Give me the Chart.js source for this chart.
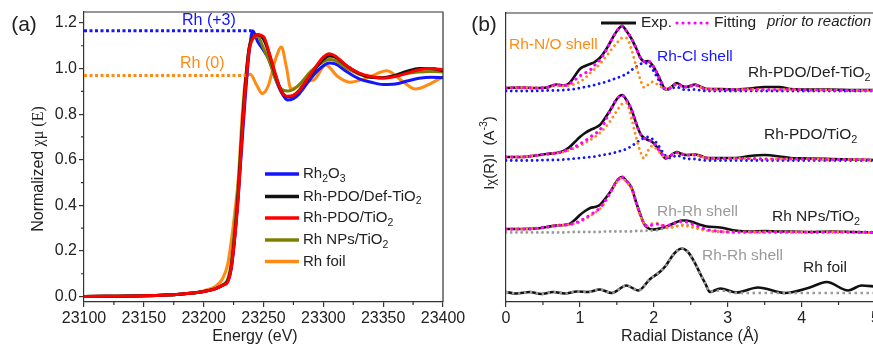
<!DOCTYPE html>
<html>
<head>
<meta charset="utf-8">
<script src="https://cdn.jsdelivr.net/npm/chart.js@4.4.1/dist/chart.umd.min.js"></script>
<style>
  html, body { margin: 0; padding: 0; background: #fff; overflow: hidden; }
  #wrap { position: relative; width: 873px; height: 346px; overflow: hidden; }
  canvas { position: absolute; left: 0; top: 0; }
</style>
</head>
<body>
<div id="wrap">
  <canvas id="xanes" width="873" height="346"></canvas>
  <canvas id="exafs" width="890" height="346"></canvas>
</div>
<script>
// ---- (a) XANES, normalized absorption vs energy ----
const energy = [23100, 23150, 23180, 23200, 23210, 23216, 23220, 23223, 23226, 23229, 23232, 23235, 23238, 23241, 23245,
  23250, 23255, 23260, 23265, 23270, 23275, 23280, 23290, 23300, 23305, 23310, 23320, 23330, 23340, 23350, 23360, 23370, 23380, 23390, 23400];
const muRh2O3 = [0, 0.003, 0.01, 0.022, 0.035, 0.05, 0.065, 0.12, 0.26, 0.45, 0.67, 0.89, 1.07, 1.166, 1.12,
  1.08, 1.035, 0.955, 0.895, 0.862, 0.868, 0.89, 0.96, 1.012, 1.024, 1.02, 0.985, 0.955, 0.94, 0.93, 0.932, 0.945, 0.957, 0.962, 0.96];
const muDef = [0, 0.003, 0.01, 0.022, 0.035, 0.05, 0.068, 0.13, 0.27, 0.46, 0.72, 0.94, 1.09, 1.135, 1.148,
  1.13, 1.06, 0.97, 0.9, 0.876, 0.882, 0.905, 0.975, 1.04, 1.055, 1.05, 1.01, 0.978, 0.962, 0.96, 0.97, 0.988, 1.0, 1.0, 0.99];
const muPdo = [0, 0.003, 0.01, 0.022, 0.035, 0.05, 0.063, 0.125, 0.26, 0.44, 0.7, 0.92, 1.08, 1.13, 1.148,
  1.14, 1.065, 0.975, 0.9, 0.878, 0.882, 0.905, 0.98, 1.05, 1.065, 1.055, 1.01, 0.98, 0.965, 0.958, 0.965, 0.98, 0.995, 1.0, 0.995];
const muNps = [0, 0.003, 0.01, 0.022, 0.035, 0.052, 0.075, 0.15, 0.31, 0.5, 0.74, 0.95, 1.09, 1.135, 1.14,
  1.09, 1.03, 0.955, 0.91, 0.902, 0.908, 0.93, 0.99, 1.03, 1.04, 1.035, 1.0, 0.975, 0.962, 0.96, 0.968, 0.978, 0.985, 0.987, 0.985];
const foilE = [23100, 23150, 23180, 23200, 23210, 23216, 23220, 23223, 23226, 23229, 23232, 23235, 23239, 23244, 23249, 23254,
  23260, 23265, 23269, 23273, 23278, 23284, 23292, 23302, 23312, 23322, 23338, 23353, 23366, 23377, 23390, 23400];
const muFoil = [0, 0.003, 0.01, 0.025, 0.045, 0.08, 0.14, 0.24, 0.37, 0.52, 0.78, 0.95, 0.975, 0.93, 0.89, 0.925,
  1.04, 1.095, 1.01, 0.91, 0.92, 0.945, 0.95, 1.015, 0.965, 0.94, 0.962, 0.99, 0.945, 0.91, 0.935, 0.965];
const rh3E = [23100, 23240], rh3Mu = [1.166, 1.166];
const rh0E = [23100, 23235], rh0Mu = [0.969, 0.969];
const eTicks = [23100, 23150, 23200, 23250, 23300, 23350, 23400];
const muTicks = [0, 0.2, 0.4, 0.6, 0.8, 1.0, 1.2];

// ---- (b) EXAFS |chi(R)|, curves stacked with offsets ----
const rGrid = [0, 0.2, 0.4, 0.55, 0.68, 0.78, 0.86, 0.93, 1.0, 1.07, 1.14, 1.2, 1.27, 1.35, 1.42, 1.5, 1.57, 1.63, 1.7, 1.76,
  1.82, 1.87, 1.92, 1.98, 2.05, 2.1, 2.16, 2.22, 2.31, 2.38, 2.44, 2.56, 2.64, 2.72, 2.9, 3.1, 3.3, 3.5, 3.7, 3.85, 4.1, 4.4, 4.7, 5.0];
const defExp = [0, 0.5, 0, 0.5, 3.5, 2.5, 5, 12, 19, 22, 24, 26, 30, 38, 47, 57, 62, 57, 49, 40,
  30, 26.5, 27, 23, 14, 6, -1.5, 0, 5, 2, 1, 3.5, 1, -1, -1, -1.5, -0.5, 1, 1, -1, -1.5, -1.5, -2, -2];
const defFit = [0, 0.5, 0, 0.5, 3, 2.5, 4, 8, 12, 15, 18, 23, 28, 37, 47, 57, 62, 57, 49, 40,
  30, 26.5, 27, 23, 14, 6, -1, 0, 4.5, 2, 1, 3, 0.5, -1, -1.5, -1.5, -1.5, -1.5, -1.5, -1.5, -2, -2, -2.5, -2.5];
const defNO = [0, 0.5, 0, 0.5, 2.5, 2, 2.5, 4, 6, 10, 15, 19, 24, 31, 38, 45, 50, 50, 38, 22,
  8, 0.5, 3, 6, 3.5, 1, -1, 0.5, 3, 1.5, 1, 2.5, 0.5, -1, -1.5, -1.5, -1.5, -1.5, -1.5, -1.5, -2, -2, -2.5, -2.5];
const defCl = [-3, -3, -3, -2.5, -2.5, -2, -1.5, -1, 0, 1, 2, 3, 4.5, 6, 8, 10, 12, 14, 18, 21,
  24, 25, 24, 19, 10, 3, -1.5, -1, 1, -1, -2, -1.5, -2.5, -3, -3, -3, -3, -3, -3, -3, -3, -3, -3, -3];
const pdoExp = [0, 0, 1.5, 3, 4, 6, 10, 15, 20, 24, 27, 29, 32, 40, 48, 58, 62, 57, 47, 34,
  23, 19, 17, 15, 9, 4, -1.5, 1, 5, 3, 2, 2.5, 1, -1, -1, -1, 1, 2, 0.5, -1, -1.5, -2, -2.5, -3];
const pdoFit = [0, 0, 1.5, 3, 4, 5.5, 8, 10, 13, 16, 20, 23, 27, 37, 48, 58, 62, 57, 47, 34,
  23, 19, 17, 15, 9, 4, -1, 1, 4.5, 3, 2, 2, 0.5, -1, -1.5, -1.5, -1.5, -2, -2, -2, -2, -2.5, -2.5, -3];
const pdoNO = [0, 0, 1.5, 3, 4, 5, 7, 9, 11, 14, 17, 20, 24, 30, 37, 46, 53, 54, 38, 20,
  5, -1.5, 6, 11, 7, 3, 0, 1, 4, 3, 2, 2, 0.5, -1, -1.5, -1.5, -1.5, -2, -2, -2, -2, -2.5, -2.5, -3];
const pdoCl = [-3.5, -3.5, -3.5, -3, -3, -2.5, -2, -1.5, -1, -0.5, 0, 0.5, 1.5, 2.5, 3.5, 5, 6.5, 8, 11, 14,
  17, 19, 20, 18, 13, 7, 1.5, -1, 1.5, 0, -2, -2, -3, -3.5, -3.5, -3.5, -3.5, -3.5, -3.5, -3.5, -3.5, -3.5, -3.5, -3.5];
const npsExp = [0, 0, 0.5, 2, 3.5, 4, 5, 9, 14, 18, 21, 22, 24, 31, 38, 48, 52, 48, 41, 27,
  14, 5, 1, -0.5, 0, 1, 2, 4, 7, 8.5, 8.5, 6, 4, 2.5, 1.5, -1.5, -2.5, -2, -2.5, -2.5, -3, -2.5, -3, -3.5];
const npsFit = [0, 0, 0.5, 2, 3.5, 4, 4.5, 6, 8, 11, 14, 17, 21, 29, 38, 48, 52, 48, 41, 27,
  14, 5, 3, 4, 5, 4, 3, 4, 6.5, 7.5, 7, 4, 1.5, -0.5, -2.5, -3, -3, -3, -3, -3, -3, -3, -3, -3.5];
const npsNO = [0, 0, 0.5, 2, 3.5, 4, 4.5, 5.5, 7, 10, 13, 16, 20, 28, 37, 47, 51, 47, 40, 26,
  13, 5, 3, 5.5, 5.5, 4, 2, 1.5, 2.5, 3.5, 3, 1, -0.5, -1.5, -2.5, -3, -3, -3, -3, -3, -3, -3, -3, -3.5];
const npsRh = [-3.5, -3.5, -3.5, -3.5, -3.5, -3.5, -3, -3, -3, -3, -3, -3, -3, -2.5, -2.5, -2.5, -2.5, -2.5, -2.5, -2,
  -2, -2, -1.5, -1.5, -1, 0, 1, 1.5, 3, 4, 4, 2.5, 0.5, -1.5, -3, -3.5, -3.5, -3.5, -3.5, -3.5, -3.5, -3.5, -3.5, -3.5];
const foilR = [0, 0.14, 0.32, 0.48, 0.64, 0.8, 0.96, 1.11, 1.27, 1.43, 1.63, 1.79, 1.95, 2.08, 2.16, 2.24, 2.31,
  2.38, 2.45, 2.51, 2.57, 2.63, 2.7, 2.76, 2.9, 3.12, 3.41, 3.78, 4.11, 4.34, 4.63, 4.81, 5.0];
const foilExp = [0, -1.5, 0, -2, 0, -1.5, 0.5, 0, 2.5, -1, 6.5, 1.5, 13, 20, 26, 35, 41,
  43.5, 41, 35, 27, 18, 8, 0, 3.5, -0.5, 4.5, -1, 4.5, 10, 1.5, 6.5, 5.5];
const foilFit = [0, -1.5, 0, -2, 0, -1.5, 0.5, 0, 2.5, -1, 6.5, 1.5, 13, 20, 26, 35, 41,
  43.5, 41, 35, 27, 18, 8, 0.5, 1.5, -1, -1, -1, -1, -1, -1, -1, -1];
const offsets = { def: 214, pdo: 145, nps: 73, foil: 10 };
const rTicks = [0, 1, 2, 3, 4, 5];

const sans = "'Liberation Sans', Arial, sans-serif";
const serif = "'Liberation Serif', 'Times New Roman', serif";
const axisColor = '#333';
const c = { blue: '#1414ff', black: '#111', red: '#ff0000', olive: '#808000', orange: '#ff8a14', magenta: '#ff00ff', gray: '#9a9a9a' };

Chart.defaults.font.family = sans;
Chart.defaults.color = '#222';

function pts(xs, ys, off) {
  return xs.map((x, i) => ({ x: x, y: ys[i] + (off || 0) }));
}

// markup: _x = one subscript char, ^{..} = superscript
function segs(str, size, family, italic) {
  const out = [];
  let buf = '';
  const push = (t, k) => { if (t) out.push({ t: t, k: k }); };
  for (let i = 0; i < str.length; i++) {
    const ch = str[i];
    if (ch === '_') { push(buf, 0); buf = ''; push(str[++i], 1); }
    else if (ch === '^') { push(buf, 0); buf = ''; const j = str.indexOf('}', i); push(str.slice(i + 2, j), -1); i = j; }
    else buf += ch;
  }
  push(buf, 0);
  return out.map(s => ({
    t: s.t,
    font: (italic ? 'italic ' : '') + (s.k ? size * 0.7 : size) + 'px ' + (family || sans),
    dy: s.k === 1 ? size * 0.32 : s.k === -1 ? -size * 0.38 : 0
  }));
}

function drawSegs(ctx, list, x, y, color, align) {
  let w = 0;
  list.forEach(s => { ctx.font = s.font; s.w = ctx.measureText(s.t).width; w += s.w; });
  let cx = align === 'center' ? x - w / 2 : x;
  ctx.fillStyle = color;
  ctx.textAlign = 'left';
  ctx.textBaseline = 'middle';
  list.forEach(s => { ctx.font = s.font; ctx.fillText(s.t, cx, y + s.dy); cx += s.w; });
}

function text(ctx, str, x, y, color, size, align, italic) {
  drawSegs(ctx, segs(str, size, sans, italic), x, y, color, align);
}

function minorTicks(ctx, scale, values, horizontal) {
  ctx.save();
  ctx.strokeStyle = axisColor;
  ctx.lineWidth = 1.2;
  ctx.beginPath();
  values.forEach(v => {
    const p = scale.getPixelForValue(v);
    if (horizontal) { ctx.moveTo(p, scale.top); ctx.lineTo(p, scale.top + 3); }
    else { ctx.moveTo(scale.right, p); ctx.lineTo(scale.right - 3, p); }
  });
  ctx.stroke();
  ctx.restore();
}

function curve(label, xs, ys, color, order, width) {
  return { label: label, data: pts(xs, ys), borderColor: color, backgroundColor: color,
    borderWidth: width || 3, pointRadius: 0, order: order, cubicInterpolationMode: 'monotone' };
}

function refLine(xs, ys, color) {
  return { data: pts(xs, ys), borderColor: color, borderWidth: 3, borderDash: [3, 2.5], pointRadius: 0, order: 0 };
}

const xanesLegend = [
  ['Rh_2O_3', c.blue], ['Rh-PDO/Def-TiO_2', c.black], ['Rh-PDO/TiO_2', c.red], ['Rh NPs/TiO_2', c.olive], ['Rh foil', c.orange]
];

const xanesDecor = {
  id: 'xanesDecor',
  afterDraw(chart) {
    const ctx = chart.ctx, a = chart.chartArea;
    ctx.save();
    ctx.strokeStyle = axisColor;
    ctx.lineWidth = 1.2;
    ctx.beginPath();
    ctx.moveTo(a.left, a.top); ctx.lineTo(a.right, a.top); ctx.lineTo(a.right, a.bottom);
    ctx.stroke();
    minorTicks(ctx, chart.scales.x, [23125, 23175, 23225, 23275, 23325, 23375], true);
    minorTicks(ctx, chart.scales.y, [0.1, 0.3, 0.5, 0.7, 0.9, 1.1], false);

    text(ctx, '(a)', 24, 25, '#222', 21, 'center');
    text(ctx, 'Rh (+3)', 182, 21, c.blue, 16);
    text(ctx, 'Rh (0)', 180, 64, c.orange, 16);

    const rows = [174, 196.5, 218, 240, 261.5];
    xanesLegend.forEach((item, i) => {
      ctx.strokeStyle = item[1];
      ctx.lineWidth = 3.5;
      ctx.beginPath(); ctx.moveTo(265, rows[i]); ctx.lineTo(299, rows[i]); ctx.stroke();
      text(ctx, item[0], 303, rows[i], '#222', 15);
    });

    text(ctx, 'Energy (eV)', 255, 337, '#222', 16, 'center');
    ctx.translate(39, 169);
    ctx.rotate(-Math.PI / 2);
    drawSegs(ctx, [{ t: 'Normalized ', font: '16px ' + sans, dy: 0 }, { t: 'χμ (E)', font: '16px ' + serif, dy: 0 }], 0, 0, '#222', 'center');
    ctx.restore();
  }
};

new Chart(document.getElementById('xanes'), {
  type: 'line',
  data: {
    datasets: [
      curve('Rh-PDO/TiO2', energy, muPdo, c.red, 1),
      curve('Rh-PDO/Def-TiO2', energy, muDef, c.black, 2),
      curve('Rh NPs/TiO2', energy, muNps, c.olive, 3),
      curve('Rh2O3', energy, muRh2O3, c.blue, 4),
      curve('Rh foil', foilE, muFoil, c.orange, 5),
      refLine(rh3E, rh3Mu, c.blue),
      refLine(rh0E, rh0Mu, c.orange)
    ]
  },
  options: {
    responsive: false,
    animation: false,
    layout: { padding: { left: 0, right: 873 - 443, top: 12, bottom: 0 } },
    plugins: { legend: { display: false }, tooltip: { enabled: false } },
    scales: {
      x: {
        type: 'linear', min: 23100, max: 23400,
        afterBuildTicks: s => { s.ticks = eTicks.map(v => ({ value: v })); },
        afterFit: s => { s.height = 44; },
        grid: { drawOnChartArea: false, tickLength: 5, color: axisColor, lineWidth: 1.2 },
        border: { color: axisColor, width: 1.2 },
        ticks: { font: { size: 16 }, padding: 2, maxRotation: 0, callback: v => String(v) }
      },
      y: {
        min: -0.024, max: 1.248,
        afterBuildTicks: s => { s.ticks = muTicks.map(v => ({ value: v })); },
        afterFit: s => { s.width = 84; },
        grid: { drawOnChartArea: false, tickLength: 5, color: axisColor, lineWidth: 1.2 },
        border: { color: axisColor, width: 1.2 },
        ticks: { font: { size: 16 }, padding: 2, callback: v => v.toFixed(1) }
      }
    }
  },
  plugins: [xanesDecor]
});

// ---- panel (b) ----
function exafsLine(xs, ys, off, color, kind) {
  const ds = { data: pts(xs, ys, off), borderColor: color, pointRadius: 0, cubicInterpolationMode: 'monotone' };
  if (kind === 'exp') { ds.borderWidth = 2.6; ds.order = 5; }
  else if (kind === 'fit') { ds.borderWidth = 3.2; ds.borderDash = [0.01, 6]; ds.borderCapStyle = 'round'; ds.order = 1; }
  else if (kind === 'rh') { ds.borderWidth = 2.6; ds.borderDash = [2.5, 3.5]; ds.order = 2; }
  else { ds.borderWidth = 2.8; ds.borderDash = [0.01, 5.2]; ds.borderCapStyle = 'round'; ds.order = 2; }
  return ds;
}

const exafsDecor = {
  id: 'exafsDecor',
  afterDraw(chart) {
    const ctx = chart.ctx, a = chart.chartArea;
    ctx.save();
    ctx.strokeStyle = axisColor;
    ctx.lineWidth = 1.2;
    ctx.beginPath(); ctx.moveTo(a.left, a.top); ctx.lineTo(a.right, a.top); ctx.stroke();
    minorTicks(ctx, chart.scales.x, [0.5, 1.5, 2.5, 3.5, 4.5], true);

    text(ctx, '(b)', 484, 25, '#222', 21, 'center');
    // legend
    ctx.strokeStyle = c.black; ctx.lineWidth = 3;
    ctx.beginPath(); ctx.moveTo(601, 23); ctx.lineTo(636, 23); ctx.stroke();
    text(ctx, 'Exp.', 641, 23, '#222', 15.5);
    ctx.strokeStyle = c.magenta; ctx.lineWidth = 3.2; ctx.setLineDash([0.01, 6]); ctx.lineCap = 'round';
    ctx.beginPath(); ctx.moveTo(677, 23); ctx.lineTo(711, 23); ctx.stroke();
    ctx.setLineDash([]); ctx.lineCap = 'butt';
    text(ctx, 'Fitting', 714, 23, '#222', 15.5);
    text(ctx, 'prior to reaction', 767, 22, '#222', 15, null, true);

    text(ctx, 'Rh-N/O shell', 509, 45, c.orange, 15.5);
    text(ctx, 'Rh-Cl shell', 657, 57, c.blue, 15.5);
    text(ctx, 'Rh-PDO/Def-TiO_2', 748, 73, '#222', 15.5);
    text(ctx, 'Rh-PDO/TiO_2', 764, 135, '#222', 15.5);
    text(ctx, 'Rh-Rh shell', 657, 212, c.gray, 15.5);
    text(ctx, 'Rh NPs/TiO_2', 772, 217, '#222', 15.5);
    text(ctx, 'Rh-Rh shell', 702, 256, c.gray, 15.5);
    text(ctx, 'Rh foil', 803, 268, '#222', 15.5);

    text(ctx, 'Radial Distance (Å)', 690, 337, '#222', 16, 'center');
    ctx.translate(490, 153);
    ctx.rotate(-Math.PI / 2);
    drawSegs(ctx, [
      { t: 'I', font: '15px ' + sans, dy: 0 },
      { t: 'χ', font: '13px ' + sans, dy: 1 },
      { t: '(R)I  (A', font: '15px ' + sans, dy: 0 },
      { t: '-3', font: '10.5px ' + sans, dy: -6 },
      { t: ')', font: '15px ' + sans, dy: 0 }
    ], 0, 0, '#222', 'center');
    ctx.restore();
  }
};

new Chart(document.getElementById('exafs'), {
  type: 'line',
  data: {
    datasets: [
      exafsLine(rGrid, defExp, offsets.def, c.black, 'exp'),
      exafsLine(rGrid, defNO, offsets.def, c.orange, 'shell'),
      exafsLine(rGrid, defCl, offsets.def, c.blue, 'shell'),
      exafsLine(rGrid, defFit, offsets.def, c.magenta, 'fit'),
      exafsLine(rGrid, pdoExp, offsets.pdo, c.black, 'exp'),
      exafsLine(rGrid, pdoNO, offsets.pdo, c.orange, 'shell'),
      exafsLine(rGrid, pdoCl, offsets.pdo, c.blue, 'shell'),
      exafsLine(rGrid, pdoFit, offsets.pdo, c.magenta, 'fit'),
      exafsLine(rGrid, npsExp, offsets.nps, c.black, 'exp'),
      exafsLine(rGrid, npsNO, offsets.nps, c.orange, 'shell'),
      exafsLine(rGrid, npsRh, offsets.nps, c.gray, 'shell'),
      exafsLine(rGrid, npsFit, offsets.nps, c.magenta, 'fit'),
      exafsLine(foilR, foilExp, offsets.foil, c.black, 'exp'),
      exafsLine(foilR, foilFit, offsets.foil, c.gray, 'rh')
    ]
  },
  options: {
    responsive: false,
    animation: false,
    layout: { padding: { left: 0, right: 890 - 875.5, top: 13, bottom: 0 } },
    plugins: { legend: { display: false }, tooltip: { enabled: false } },
    scales: {
      x: {
        type: 'linear', min: 0, max: 5,
        afterBuildTicks: s => { s.ticks = rTicks.map(v => ({ value: v })); },
        afterFit: s => { s.height = 44; },
        grid: { drawOnChartArea: false, tickLength: 5, color: axisColor, lineWidth: 1.2 },
        border: { color: axisColor, width: 1.2 },
        ticks: { font: { size: 16 }, padding: 2, maxRotation: 0, callback: v => String(v) }
      },
      y: {
        min: 0, max: 289,
        afterFit: s => { s.width = 506; },
        grid: { display: false, drawTicks: false },
        border: { color: axisColor, width: 1.2 },
        ticks: { display: false }
      }
    }
  },
  plugins: [exafsDecor]
});
</script>
</body>
</html>
